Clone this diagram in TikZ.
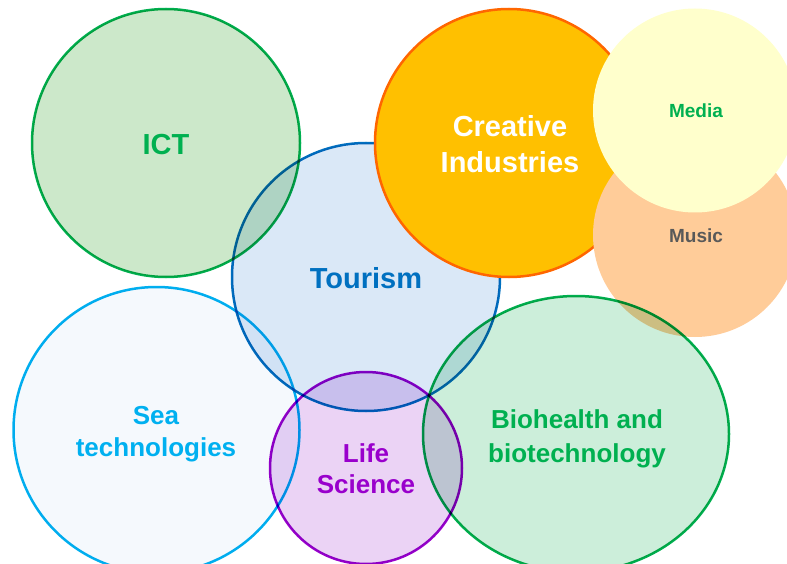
\documentclass[tikz,border=0pt]{standalone}
\usepackage{fontspec}
\setmainfont{Liberation Sans}
\usetikzlibrary{shapes.geometric}
\definecolor{ictfill}{HTML}{CCE8CA}
\definecolor{green1}{HTML}{00B050}
\definecolor{tourfill}{HTML}{DAE8F7}
\definecolor{tourline}{HTML}{0070C0}
\definecolor{creafill}{HTML}{FFC000}
\definecolor{crealine}{HTML}{FF6600}
\definecolor{mediafill}{HTML}{FFFFCC}
\definecolor{musicfill}{HTML}{FFCC99}
\definecolor{musictext}{HTML}{595959}
\definecolor{seafill}{HTML}{F5F9FD}
\definecolor{sealine}{HTML}{00B0F0}
\definecolor{lifefill}{HTML}{EBD3F5}
\definecolor{lifeline}{HTML}{9900CC}
\definecolor{biofill}{HTML}{CCEEDA}
\begin{document}
\begin{tikzpicture}[x=1pt,y=-1pt,
  bubble/.style={circle, inner sep=0pt, line width=2.5pt},
  lbl/.style={anchor=base, inner sep=0pt},
  big/.style={lbl, font=\bfseries\fontsize{29}{35}\selectfont},
  mid/.style={lbl, font=\bfseries\fontsize{26}{32}\selectfont},
  small/.style={lbl, font=\bfseries\fontsize{19}{23}\selectfont}]
\useasboundingbox (0,0) rectangle (787,564);
\clip (0,0) rectangle (787,564);
\fill[white] (0,0) rectangle (787,564);
\begin{scope}[blend mode=multiply]
  \node[bubble, minimum size=268pt, fill=ictfill, draw=green1] (ict) at (166,143) {};
  \node[bubble, minimum size=268pt, fill=tourfill, draw=tourline] (tour) at (366,277) {};
  \node[bubble, minimum size=286pt, fill=seafill, draw=sealine] (sea) at (156.5,430) {};
  \node[bubble, minimum size=192pt, fill=lifefill, draw=lifeline] (life) at (366,468) {};
\end{scope}
\node[bubble, minimum size=268pt, fill=creafill, draw=crealine] (crea) at (509,143) {};
\node[bubble, minimum size=204pt, fill=musicfill] (music) at (695,235) {};
\node[bubble, minimum size=204pt, fill=mediafill] (media) at (695,110.5) {};
\begin{scope}[blend mode=multiply]
  \node[ellipse, inner sep=0pt, line width=2.5pt, minimum width=306pt, minimum height=276pt, fill=biofill, draw=green1] (bio) at (576,434) {};
\end{scope}
\node[big, text=green1] (ict-t) at (166,155) {ICT};
\node[big, text=tourline] (tour-t) at (366,288) {Tourism};
\node[big, text=white] (crea-t1) at (510,137) {Creative};
\node[big, text=white] (crea-t2) at (510,173) {Industries};
\node[small, text=green1] (media-t) at (696,118) {Media};
\node[small, text=musictext] (music-t) at (696,242) {Music};
\node[mid, text=sealine] (sea-t1) at (156,424) {Sea};
\node[mid, text=sealine] (sea-t2) at (156,456) {technologies};
\node[mid, text=lifeline] (life-t1) at (366,462) {Life};
\node[mid, text=lifeline] (life-t2) at (366,493) {Science};
\node[mid, text=green1] (bio-t1) at (577,428) {Biohealth and};
\node[mid, text=green1] (bio-t2) at (577,462) {biotechnology};
\end{tikzpicture}
\end{document}
